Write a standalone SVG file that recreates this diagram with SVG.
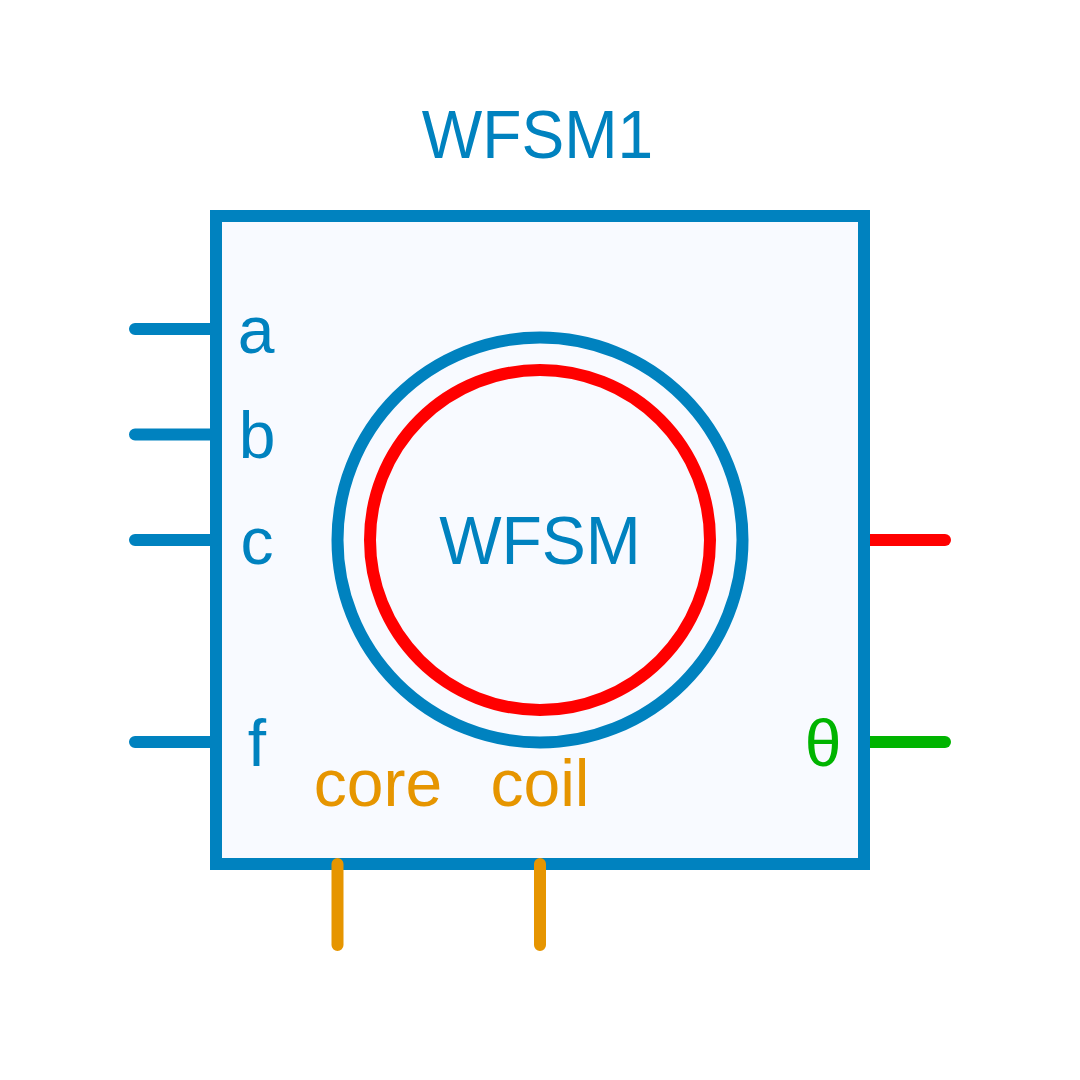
<svg xmlns="http://www.w3.org/2000/svg" width="1080" height="1080" viewBox="0 0 1080 1080">
<style>
text{font-family:"Liberation Sans",Arial,sans-serif;text-anchor:middle;font-size:66px}
.b{fill:#0082BF}.o{fill:#E69500}
.w{stroke-width:12;stroke-linecap:round;fill:none}
.sb{stroke:#0082BF}.so{stroke:#E69500}
</style>
<rect width="1080" height="1080" fill="#fff"/>
<g id="block">
<rect x="216" y="216" width="648" height="648" fill="#F8FAFF" stroke="#0082BF" stroke-width="12"/>
</g>
<g id="machine">
<circle cx="540" cy="540" r="202.500" fill="none" stroke="#0082BF" stroke-width="12"/>
<circle cx="540" cy="540" r="170" fill="none" stroke="#f00" stroke-width="12"/>
<text class="b" x="540" y="564" style="font-size:68px" textLength="201.600" lengthAdjust="spacingAndGlyphs">WFSM</text>
</g>
<g id="connectors">
<path class="w sb" d="M135 329H216M135 434.500H216M135 540H216M135 742H216"/>
<path fill="#f00" d="M870 534H945a6 6 0 0 1 0 12H870z"/>
<path fill="#00B400" d="M870 736H945a6 6 0 0 1 0 12H870z"/>
<path class="w so" d="M337.500 864V945M540 864V945"/>
</g>
<g id="labels">
<text class="b" x="537.500" y="158" style="font-size:68px" textLength="231.500" lengthAdjust="spacingAndGlyphs">WFSM1</text>
<text class="b" x="256" y="353">a</text>
<text class="b" x="257" y="458">b</text>
<text class="b" x="257" y="564">c</text>
<text class="b" x="257" y="766">f</text>
<text x="823" y="766" fill="#00B400">θ</text>
<text class="o" x="378" y="806">core</text>
<text class="o" x="540" y="806">coil</text>
</g>
</svg>
